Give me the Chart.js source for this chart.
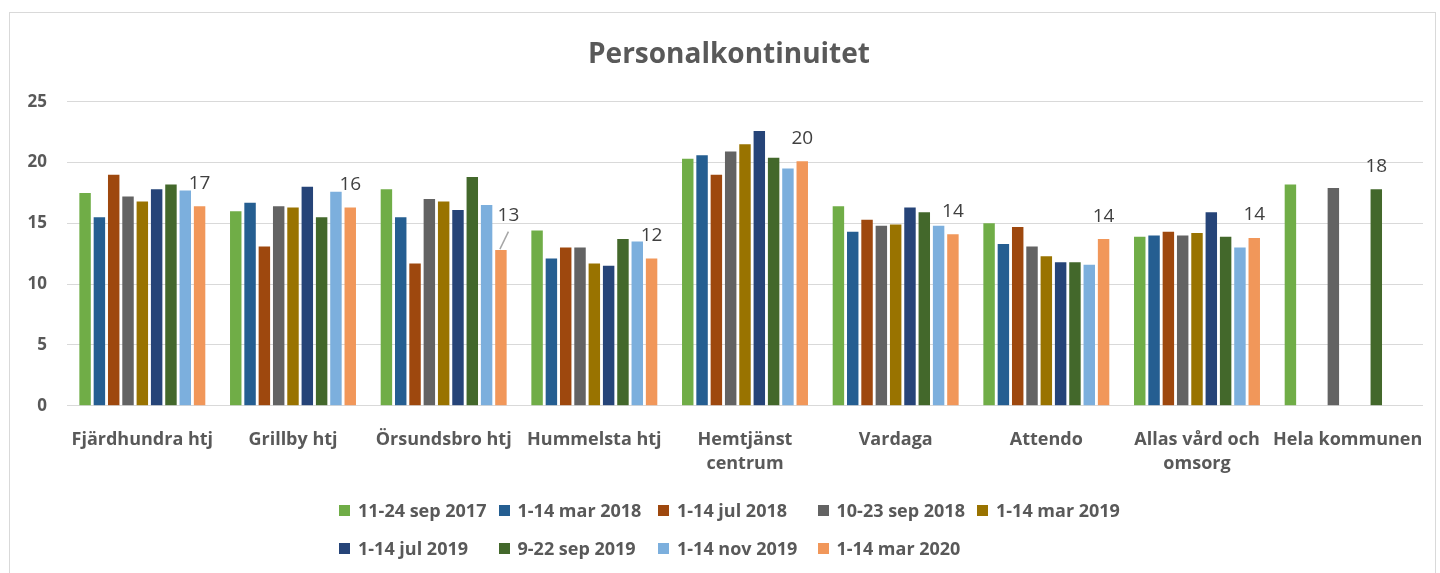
<!DOCTYPE html>
<html>
<head>
<meta charset="utf-8">
<script src="https://cdn.jsdelivr.net/npm/chart.js@4"></script>
<style>
  html, body { margin: 0; padding: 0; background: #fff; }
  #wrap { position: relative; width: 1440px; height: 573px; overflow: hidden; }
  #frame { position: absolute; left: 9px; top: 12px; width: 1427px; height: 620px;
           border: 1px solid #d9d9d9; box-sizing: border-box; }
  #chart { position: absolute; left: 0; top: 0; }
  #title { position: absolute; left: 0; top: 35px; width: 1458px; text-align: center;
           font: bold 28px/34px "Open Sans"; color: #595959; }
  #legend { position: absolute; left: 339px; top: 491px; display: grid;
            grid-template-columns: repeat(5, 159.5px); grid-auto-rows: 38px;
            font: bold 18px "Open Sans"; color: #595959; }
  .item { display: flex; align-items: center; white-space: nowrap; }
  .box { width: 11px; height: 11px; margin-right: 8px; flex: none; }
</style>
</head>
<body>
<div id="wrap">
  <div id="frame"></div>
  <canvas id="chart" width="1440" height="573"></canvas>
  <div id="title">Personalkontinuitet</div>
  <div id="legend"></div>
</div>
<script>
const categories = [
  "Fjärdhundra htj", "Grillby htj", "Örsundsbro htj", "Hummelsta htj",
  ["Hemtjänst", "centrum"], "Vardaga", "Attendo", ["Allas vård och", "omsorg"],
  "Hela kommunen",
];

const periods = [
  "11-24 sep 2017", "1-14 mar 2018", "1-14 jul 2018", "10-23 sep 2018",
  "1-14 mar 2019", "1-14 jul 2019", "9-22 sep 2019", "1-14 nov 2019", "1-14 mar 2020",
];

// one array per period, values per category (null = not measured)
const sep2017 = [17.5, 16.0, 17.8, 14.4, 20.3, 16.4, 15.0, 13.9, 18.2];
const mar2018 = [15.5, 16.7, 15.5, 12.1, 20.6, 14.3, 13.3, 14.0, null];
const jul2018 = [19.0, 13.1, 11.7, 13.0, 19.0, 15.3, 14.7, 14.3, null];
const sep2018 = [17.2, 16.4, 17.0, 13.0, 20.9, 14.8, 13.1, 14.0, 17.9];
const mar2019 = [16.8, 16.3, 16.8, 11.7, 21.5, 14.9, 12.3, 14.2, null];
const jul2019 = [17.8, 18.0, 16.1, 11.5, 22.6, 16.3, 11.8, 15.9, null];
const sep2019 = [18.2, 15.5, 18.8, 13.7, 20.4, 15.9, 11.8, 13.9, 17.8];
const nov2019 = [17.7, 17.6, 16.5, 13.5, 19.5, 14.8, 11.6, 13.0, null];
const mar2020 = [16.4, 16.3, 12.8, 12.1, 20.1, 14.1, 13.7, 13.8, null];

// the number printed above the last bar of each group
const groupLabels = ["17", "16", "13", "12", "20", "14", "14", "14", "18"];

const yTicks = [0, 5, 10, 15, 20, 25];

const seriesColors = ["#70AD47", "#255E91", "#9E480E", "#636363", "#997300",
                      "#264478", "#43682B", "#7CAFDD", "#F1975A"];

const FONT = '"Open Sans", "Noto Sans", sans-serif';
const TEXT = "#595959";

const series = [sep2017, mar2018, jul2018, sep2018, mar2019, jul2019, sep2019, nov2019, mar2020];

const endLabels = {
  id: "endLabels",
  afterDatasetsDraw(c) {
    const ctx = c.ctx;
    ctx.save();
    ctx.font = "19px " + FONT;
    ctx.fillStyle = "#404040";
    ctx.textAlign = "center";
    ctx.textBaseline = "middle";
    categories.forEach((_, i) => {
      // label goes over the last bar that has a value
      let ds = c.data.datasets.length - 1;
      while (ds > 0 && c.data.datasets[ds].data[i] == null) ds--;
      const bar = c.getDatasetMeta(ds).data[i];
      let x = bar.x, y = bar.y - 23;
      if (i === 2) {
        // Örsundsbro: label pushed up, with a leader line
        x += 7.5; y -= 11.5;
        ctx.strokeStyle = "#a6a6a6";
        ctx.lineWidth = 1.5;
        ctx.beginPath();
        ctx.moveTo(bar.x - 1, bar.y - 1);
        ctx.lineTo(x, y + 16);
        ctx.stroke();
      }
      ctx.fillText(groupLabels[i], x, y);
    });
    ctx.restore();
  },
};

new Chart(document.getElementById("chart").getContext("2d"), {
  type: "bar",
  data: {
    labels: categories,
    datasets: series.map((d, k) => ({
      label: periods[k],
      data: d,
      backgroundColor: seriesColors[k],
      borderWidth: 0,
      barPercentage: 0.8,
      categoryPercentage: 0.855,
    })),
  },
  options: {
    responsive: false,
    animation: false,
    // title is an html div above the canvas, so reserve its space here
    layout: { padding: { left: 0, right: 17, top: 101.7, bottom: 0 } },
    plugins: {
      legend: { display: false },
      tooltip: { enabled: false },
      title: { display: false },
    },
    scales: {
      x: {
        grid: { display: false },
        border: { display: false },
        ticks: {
          color: TEXT,
          font: { family: FONT, size: 18, weight: "bold", lineHeight: 1.33 },
          padding: 14,
          maxRotation: 0,
          autoSkip: false,
        },
        afterFit: (s) => { s.height = 167.3; },
      },
      y: {
        min: 0,
        max: 25,
        afterBuildTicks: (s) => { s.ticks = yTicks.map((v) => ({ value: v })); },
        grid: { color: "#d9d9d9", lineWidth: 1, drawTicks: false },
        border: { display: false },
        ticks: {
          color: TEXT,
          font: { family: FONT, size: 17, weight: "bold" },
          padding: 20,
        },
        afterFit: (s) => { s.width = 67; },
      },
    },
  },
  plugins: [endLabels],
});

// legend as a grid of equal-width entries, like the original
const legend = document.getElementById("legend");
periods.forEach((p, k) => {
  const item = document.createElement("div");
  item.className = "item";
  const box = document.createElement("span");
  box.className = "box";
  box.style.background = seriesColors[k];
  item.appendChild(box);
  item.appendChild(document.createTextNode(p));
  legend.appendChild(item);
});
</script>
</body>
</html>
